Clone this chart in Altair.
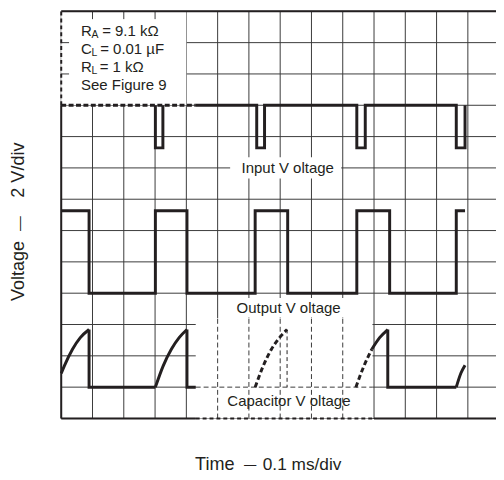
import altair as alt
import pandas as pd

FONT = "Liberation Sans"
INK = "#231f20"
GRID = "#3a3a3a"

# ---------------- grid (divisions) ----------------
grid_x = list(range(14))
grid_y = list(range(14))

# ---------------- traces (x in time divisions, y in voltage divisions) ----------------
input_pulse1_x = [3.01, 3.01, 3.25, 3.25]
input_pulse1_y = [10, 8.64, 8.64, 10]
input_x = [4.3, 6.25, 6.25, 6.5, 6.5, 9.45, 9.45, 9.72, 9.72, 12.63, 12.63, 12.91, 12.91]
input_y = [10, 10, 8.64, 8.64, 10, 10, 8.64, 8.64, 10, 10, 8.64, 8.64, 10]

output_x = [0, 0.89, 0.89, 3.01, 3.01, 4.02, 4.02, 6.2, 6.2, 7.24, 7.24, 9.45, 9.45, 10.5, 10.5, 12.63, 12.63, 12.91]
output_y = [6.63, 6.63, 4, 4, 6.63, 6.63, 4, 4, 6.63, 6.63, 4, 4, 6.63, 6.63, 4, 4, 6.63, 6.63]

cap_ramp1_x = [0, 0.1, 0.36, 0.61, 0.89]
cap_ramp1_y = [1.44, 1.68, 2.21, 2.58, 2.84]
cap_flat1_x = [0.89, 0.89, 3.01]
cap_flat1_y = [2.84, 1.0, 1.0]
cap_ramp2_x = [3.01, 3.26, 3.52, 3.77, 4.02]
cap_ramp2_y = [1.0, 1.68, 2.21, 2.58, 2.84]
cap_flat2_x = [4.02, 4.02, 4.3]
cap_flat2_y = [2.84, 1.0, 1.0]
cap_ramp3_x = [6.2, 6.46, 6.72, 6.98, 7.22]
cap_ramp3_y = [1.0, 1.68, 2.21, 2.58, 2.84]
cap_drop3_x = [7.22, 7.22]
cap_drop3_y = [2.84, 1.0]
cap_ramp4a_x = [9.42, 9.68, 9.93]
cap_ramp4a_y = [1.0, 1.68, 2.21]
cap_ramp4b_x = [9.93, 10.18, 10.44]
cap_ramp4b_y = [2.21, 2.58, 2.84]
cap_flat4_x = [10.44, 10.44, 12.63]
cap_flat4_y = [2.84, 1.0, 1.0]
cap_ramp5_x = [12.63, 12.78, 12.91]
cap_ramp5_y = [1.0, 1.45, 1.7]

# ---------------- annotation text ----------------
note_lines = ["R", "C", "R", "See Figure 9"]
note_subs = ["A", "L", "L", ""]
note_rest = ["= 9.1 kΩ", "= 0.01 µF", "= 1 kΩ", ""]
note_y = [12.37, 11.8, 11.22, 10.64]
note_x = 0.63

trace_labels = ["Input V oltage", "Output V oltage", "Capacitor V oltage"]
trace_label_x = [7.24, 7.27, 7.28]
trace_label_y = [8.0, 3.53, 0.54]
# white backgrounds behind the labels: x1, x2, y1, y2
label_box_x1 = [5.4, 5.4, 5.15]
label_box_x2 = [8.95, 9.05, 9.38]
label_box_y1 = [7.66, 3.22, 0.2]
label_box_y2 = [8.34, 3.85, 0.87]

# axis titles, written in spaced pieces as in the original
x_title_parts = ["Time", "—", "0.1 ms/div"]
x_title_pos = [4.91, 6.04, 7.7]
x_title_y = -1.5
y_title_parts = ["Voltage", "—", "2 V/div"]
y_title_pos = [4.71, 6.22, 7.93]
y_title_x = -1.345

# ---------------- scales ----------------
xs = alt.Scale(domain=[0, 13.9], nice=False, zero=False)
ys = alt.Scale(domain=[0, 13], nice=False, zero=False)


def X(f="x"):
    return alt.X(f"{f}:Q", scale=xs, axis=None)


def Y(f="y"):
    return alt.Y(f"{f}:Q", scale=ys, axis=None)


def rules(x1, x2, y1, y2, width, dash=None, color=INK):
    df = pd.DataFrame({"x": x1, "x2": x2, "y": y1, "y2": y2})
    kw = dict(color=color, strokeWidth=width)
    if dash:
        kw["strokeDash"] = dash
    return alt.Chart(df).mark_rule(**kw).encode(x=X(), x2="x2:Q", y=Y(), y2="y2:Q")


# full grid
grid_v = rules(grid_x, grid_x, [0] * len(grid_x), [13] * len(grid_x), 1, None, GRID)
grid_h = rules([0] * len(grid_y), [13.9] * len(grid_y), grid_y, grid_y, 1, None, GRID)

# white areas (note box, erased region, label backgrounds)
rect_df = pd.DataFrame({
    "x": [0.0, 4.3] + label_box_x1,
    "x2": [4.0, 9.95] + label_box_x2,
    "y": [10.0, 0.0] + label_box_y1,
    "y2": [13.0, 3.2] + label_box_y2,
})
whites = alt.Chart(rect_df).mark_rect(color="white", opacity=1).encode(
    x=X(), x2="x2:Q", y=Y(), y2="y2:Q"
)

# dashed grid inside the erased region
erased_v = rules([5, 6, 7, 8, 9], [5, 6, 7, 8, 9], [0] * 5, [3.2] * 5, 1, [5, 3], GRID)
erased_h = rules([4.3], [9.95], [1], [1], 1, [5, 3], GRID)

# frame
frame_solid = rules([0, 0, 0, 10.0], [13.9, 0, 4.3, 13.9], [13, 0, 0, 0], [13, 10, 0, 0], 2)
frame_dash = rules([0, 4.3], [0, 10.0], [10, 0], [13, 0], 2, [4, 3])
box_bottom = rules([0], [4.3], [10], [10], 3, [5, 2.5])
stubs = rules([1, 2, 3, 0, 0], [1, 2, 3, 0.25, 0.25], [12.75, 12.75, 12.75, 11, 12], [13, 13, 13, 11, 12], 1,
              None, GRID)


def line(xv, yv, width=3, dash=None, interp="linear"):
    df = pd.DataFrame({"x": xv, "y": yv, "o": list(range(len(xv)))})
    kw = dict(color=INK, strokeWidth=width, interpolate=interp, strokeJoin="miter", strokeCap="butt")
    if dash:
        kw["strokeDash"] = dash
    return alt.Chart(df).mark_line(**kw).encode(x=X(), y=Y(), order="o:Q")


traces = [
    line(input_pulse1_x, input_pulse1_y),
    line(input_x, input_y),
    line(output_x, output_y),
    line(cap_ramp1_x, cap_ramp1_y, interp="monotone"),
    line(cap_flat1_x, cap_flat1_y),
    line(cap_ramp2_x, cap_ramp2_y, interp="monotone"),
    line(cap_flat2_x, cap_flat2_y),
    line(cap_ramp3_x, cap_ramp3_y, dash=[5, 3], interp="monotone"),
    line(cap_drop3_x, cap_drop3_y, width=1, dash=[4, 3]),
    line(cap_ramp4a_x, cap_ramp4a_y, dash=[5, 3], interp="monotone"),
    line(cap_ramp4b_x, cap_ramp4b_y, interp="monotone"),
    line(cap_flat4_x, cap_flat4_y),
    line(cap_ramp5_x, cap_ramp5_y, interp="monotone"),
]


def text(txt, x, y, size=15.2, dx=0, dy=0, align="left", angle=0):
    df = pd.DataFrame({"x": [x], "y": [y], "t": [txt]})
    return alt.Chart(df).mark_text(align=align, baseline="middle", dx=dx, dy=dy, fontSize=size, font=FONT,
                                   color=INK, angle=angle).encode(x=X(), y=Y(), text="t:N")


texts = []
sub_dx = [10.6, 10.6, 10.6, 0]
rest_dx = [21.5, 19.5, 19.0, 0]
for i in range(4):
    texts.append(text(note_lines[i], note_x, note_y[i]))
    if note_subs[i]:
        texts.append(text(note_subs[i], note_x, note_y[i], size=10.5, dx=sub_dx[i], dy=4))
        texts.append(text(note_rest[i], note_x, note_y[i], dx=rest_dx[i]))
for i in range(3):
    texts.append(text(trace_labels[i], trace_label_x[i], trace_label_y[i], align="center"))
x_sizes = [18.3, 12.5, 17.5]
for i in range(3):
    texts.append(text(x_title_parts[i], x_title_pos[i], x_title_y, size=x_sizes[i], align="center"))
y_sizes = [18.3, 15, 18.3]
for i in range(3):
    texts.append(text(y_title_parts[i], y_title_x, y_title_pos[i], size=y_sizes[i], align="center", angle=270))

chart = alt.layer(
    grid_v, grid_h, whites, erased_v, erased_h, stubs, frame_solid, frame_dash, box_bottom, *traces, *texts
).properties(
    width=441, height=413,
    autosize=alt.AutoSizeParams(type="none"),
    padding={"left": 54, "top": 0, "right": 0, "bottom": 55},
).configure_view(strokeWidth=0)

chart.save("out.html", embed_options={"renderer": "svg", "actions": False})
